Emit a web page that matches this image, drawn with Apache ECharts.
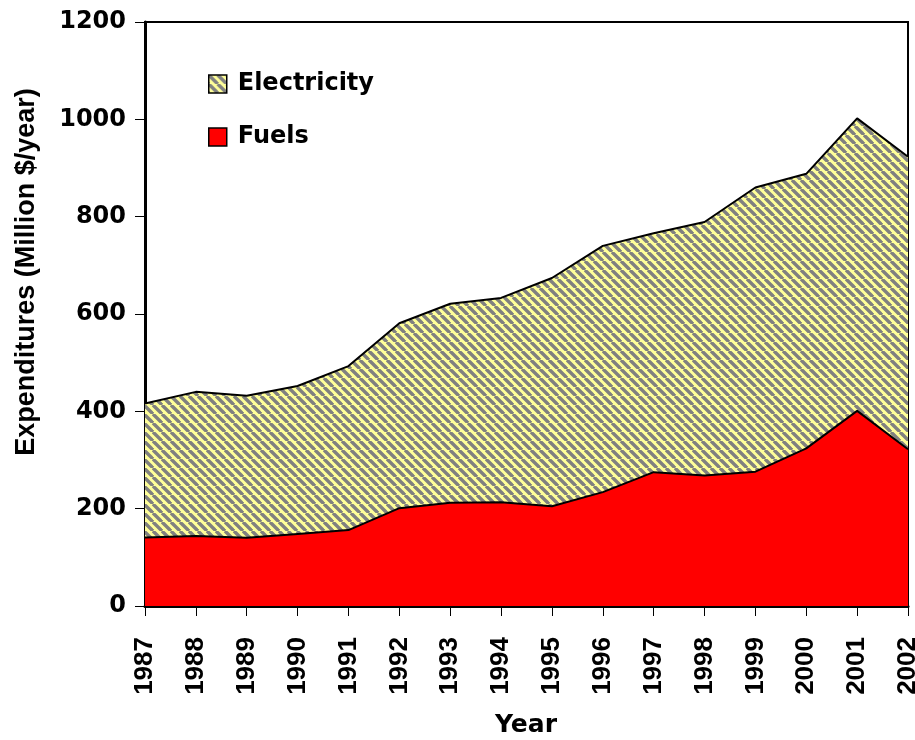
<!DOCTYPE html>
<html lang="en">
<head>
    <meta charset="UTF-8">
    <title>Expenditures</title>
    <script src="https://cdn.jsdelivr.net/npm/echarts@6/dist/echarts.min.js"></script>
    <style>
        html, body { margin: 0; padding: 0; background: #fff; }
        #chart { width: 915px; height: 740px; }
    </style>
</head>
<body>
    <div id="chart"></div>
<script>
    // data (million $/year)
    var years = ['1987','1988','1989','1990','1991','1992','1993','1994',
                 '1995','1996','1997','1998','1999','2000','2001','2002'];
    var fuels = [141, 144, 140, 148, 156, 201, 212, 213, 205, 234, 275, 268, 276, 324, 401, 322];
    var electricity = [275, 296, 292, 304, 337, 380, 409, 420, 469, 506, 491, 521, 584, 564, 601, 601];
    var yTicks = [0, 200, 400, 600, 800, 1000, 1200];

    // yellow / gray diagonal hatch
    function makeHatch() {
        var s = 9;
        var c = document.createElement('canvas');
        c.width = s; c.height = s;
        var ctx = c.getContext('2d');
        ctx.fillStyle = '#FFFF99';
        ctx.fillRect(0, 0, s, s);
        ctx.strokeStyle = '#808080';
        ctx.lineWidth = 3.4;
        [-s, 0, s].forEach(function (k) {
            ctx.beginPath();
            ctx.moveTo(k, 0);
            ctx.lineTo(k + s, s);
            ctx.stroke();
        });
        return c;
    }
    var hatch = { image: makeHatch(), repeat: 'repeat' };

    var labelFont = 'DejaVu Sans';
    var chart = echarts.init(document.getElementById('chart'));
    var option = {
        animation: false,
        grid: {
            left: 145, right: 7, top: 22, bottom: 134,
            show: true, borderColor: '#000', borderWidth: 2,
            containLabel: false,
            outerBoundsMode: 'none'
        },
        legend: {
            orient: 'vertical',
            left: 203, top: 67,
            itemWidth: 18, itemHeight: 18, itemGap: 29,
            icon: 'rect',
            textStyle: {
                fontFamily: labelFont, fontWeight: 'bold', fontSize: 24,
                color: '#000', padding: [0, 0, 0, 6]
            },
            data: [
                { name: 'Electricity', itemStyle: { color: hatch, borderColor: '#000', borderWidth: 1.5 } },
                { name: 'Fuels', itemStyle: { color: '#FF0000', borderColor: '#000', borderWidth: 1.5 } }
            ]
        },
        xAxis: {
            type: 'category',
            data: years,
            boundaryGap: false,
            axisLine: { show: true, lineStyle: { color: '#000', width: 3 } },
            axisTick: { show: true, length: 10, lineStyle: { color: '#000', width: 1 } },
            axisLabel: {
                interval: 0, rotate: 90, margin: 31,
                fontFamily: 'Liberation Sans', fontWeight: 'bold', fontSize: 26, color: '#000'
            },
            splitLine: { show: false }
        },
        yAxis: {
            type: 'value',
            min: yTicks[0], max: yTicks[yTicks.length - 1], interval: 200,
            axisLine: { show: true, lineStyle: { color: '#000', width: 3 } },
            axisTick: { show: true, length: 10, lineStyle: { color: '#000', width: 1 } },
            axisLabel: {
                margin: 19,
                formatter: function (v) { return String(v); },
                fontFamily: labelFont, fontWeight: 'bold', fontSize: 24, color: '#000'
            },
            splitLine: { show: false }
        },
        graphic: [
            {
                type: 'text', x: 27, y: 272, rotation: Math.PI / 2,
                style: {
                    text: 'Expenditures (Million $/year)',
                    font: 'bold 27px "Liberation Sans"',
                    fill: '#000', textAlign: 'center', textVerticalAlign: 'middle'
                }
            },
            {
                type: 'text', x: 526, y: 725,
                style: {
                    text: 'Year',
                    font: 'bold 25px "DejaVu Sans"',
                    fill: '#000', textAlign: 'center', textVerticalAlign: 'middle'
                }
            }
        ],
        series: [
            {
                name: 'Fuels', type: 'line', stack: 'total', data: fuels,
                showSymbol: false, symbol: 'none',
                lineStyle: { color: '#000', width: 2 },
                itemStyle: { color: '#FF0000' },
                areaStyle: { color: '#FF0000', opacity: 1 },
                z: 3
            },
            {
                name: 'Electricity', type: 'line', stack: 'total', data: electricity,
                showSymbol: false, symbol: 'none',
                lineStyle: { color: '#000', width: 2 },
                itemStyle: { color: hatch },
                areaStyle: { color: hatch, opacity: 1 },
                z: 2
            }
        ]
    };
    chart.setOption(option);
</script>
</body>
</html>
